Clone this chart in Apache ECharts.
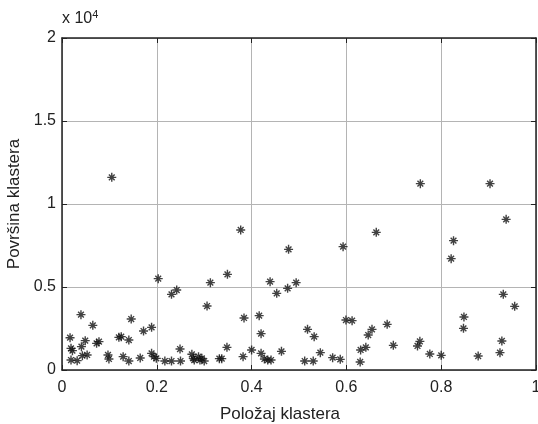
<!DOCTYPE html>
<html><head><meta charset="utf-8">
<script src="https://cdn.jsdelivr.net/npm/echarts@6/dist/echarts.min.js"></script>
<style>html,body{margin:0;padding:0;background:#fff}#c{width:538px;height:424px}</style>
</head><body><div id="c"></div>
<script>
// Cluster position (0..1)
var polozaj = [0.017,0.019,0.022,0.019,0.032,0.040,0.041,0.043,0.049,0.053,0.065,0.073,0.078,0.097,0.099,0.105,0.120,0.125,0.129,0.141,0.141,0.146,0.165,0.172,0.189,0.189,0.194,0.199,0.203,0.217,0.231,0.231,0.242,0.249,0.250,0.274,0.277,0.279,0.288,0.291,0.295,0.300,0.306,0.313,0.332,0.337,0.348,0.349,0.377,0.382,0.384,0.400,0.416,0.420,0.420,0.427,0.434,0.439,0.441,0.453,0.463,0.476,0.478,0.494,0.512,0.518,0.530,0.532,0.545,0.571,0.587,0.593,0.599,0.612,0.629,0.630,0.641,0.646,0.654,0.663,0.686,0.699,0.750,0.755,0.756,0.776,0.800,0.821,0.826,0.847,0.848,0.878,0.903,0.924,0.928,0.931,0.937,0.955];
// Cluster area
var povrsina = [1946,1305,1165,602,562,3333,1406,863,1767,904,2691,1606,1707,904,663,11606,1968,2008,803,1807,542,3072,723,2349,2570,1004,803,703,5502,542,4558,542,4819,1265,542,946,703,602,803,602,703,542,3855,5261,683,683,1365,5763,8434,803,3133,1205,3273,2189,1004,663,602,5321,602,4618,1124,4919,7269,5261,542,2450,542,2008,1044,743,643,7430,3012,2972,482,1205,1365,2108,2450,8293,2751,1486,1446,1727,11225,964,884,6707,7791,2510,3193,843,11225,1044,1747,4558,9076,3835];
var xTicks = [0,0.2,0.4,0.6,0.8,1];
var yTicks = [0,0.5,1,1.5,2];
var xLabel = 'Položaj klastera';
var yLabel = 'Površina klastera';

var pts = polozaj.map(function(x,i){return [x, povrsina[i]];});
var FONT = 'Liberation Sans';
var TXT = '#222';
function sideAxis(pos){
  return {type:'value',position:pos,min:0,max:(pos==='top'?1:20000),interval:(pos==='top'?0.2:5000),
    axisLine:{show:true,onZero:false,lineStyle:{color:TXT,width:1.5}},
    axisTick:{show:true,inside:true,length:5,lineStyle:{color:TXT}},
    axisLabel:{show:false},splitLine:{show:false}};
}
var chart = echarts.init(document.getElementById('c'), null, {renderer:'canvas'});
chart.setOption({
  animation:false,
  backgroundColor:'#fff',
  grid:{left:62,right:2,top:38,bottom:54,show:false,containLabel:false,outerBoundsMode:'none'},
  xAxis:[{type:'value',min:0,max:1,interval:0.2,position:'bottom',
    name:xLabel,nameLocation:'middle',nameGap:36,
    nameTextStyle:{fontFamily:FONT,fontSize:17,color:TXT,padding:[0,38,0,0]},
    axisLine:{show:true,onZero:false,lineStyle:{color:TXT,width:1.5}},
    axisTick:{show:true,inside:true,length:5,lineStyle:{color:TXT}},
    axisLabel:{fontFamily:FONT,fontSize:16,color:TXT,margin:10,
      formatter:function(v){return String(xTicks[Math.round(v/0.2)]);}},
    splitLine:{show:true,lineStyle:{color:'#b4b4b4',width:1}}
  }, sideAxis('top')],
  yAxis:[{type:'value',min:0,max:20000,interval:5000,position:'left',
    name:yLabel,nameLocation:'middle',nameGap:35,nameRotate:90,
    nameTextStyle:{fontFamily:FONT,fontSize:17,color:TXT},
    axisLine:{show:true,onZero:false,lineStyle:{color:TXT,width:1.5}},
    axisTick:{show:true,inside:true,length:5,lineStyle:{color:TXT}},
    axisLabel:{fontFamily:FONT,fontSize:16,color:TXT,margin:6,
      formatter:function(v){return String(yTicks[Math.round(v/5000)]);}},
    splitLine:{show:true,lineStyle:{color:'#b4b4b4',width:1}}
  }, sideAxis('right')],
  graphic:[
    {type:'text',left:62,top:9,z:100,style:{text:'x 10{s|4}',fontFamily:FONT,fontSize:16,fill:TXT,
      rich:{s:{fontSize:11,fontFamily:FONT,verticalAlign:'top',padding:[0,0,8,0]}}}}
  ],
  series:[{type:'scatter',data:pts,xAxisIndex:0,yAxisIndex:0,
    symbol:'path://M5,0L5,10M0,5L10,5M1.8,1.8L8.2,8.2M8.2,1.8L1.8,8.2',
    symbolSize:9,
    itemStyle:{color:'rgba(0,0,0,0)',borderColor:'#111',borderWidth:1.4}
  }]
});
</script></body></html>
